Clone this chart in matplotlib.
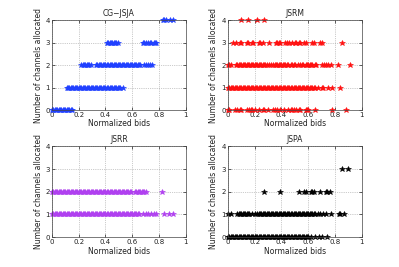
import matplotlib.pyplot as plt

# bids per allocation level
cg_jsja = {
    0: [0.00, 0.01, 0.02, 0.03, 0.04, 0.05, 0.06, 0.07, 0.08, 0.09, 0.10, 0.11, 0.12, 0.13, 0.14, 0.15],
    1: [0.11, 0.12, 0.13, 0.14, 0.15, 0.16, 0.17, 0.18, 0.19, 0.20, 0.21, 0.22, 0.23, 0.24, 0.25, 0.26,
        0.27, 0.28, 0.29, 0.30, 0.31, 0.32, 0.33, 0.34, 0.35, 0.36, 0.37, 0.38, 0.39, 0.40, 0.41, 0.42,
        0.43, 0.44, 0.45, 0.46, 0.47, 0.48, 0.49, 0.50, 0.51, 0.53],
    2: [0.22, 0.23, 0.24, 0.25, 0.26, 0.27, 0.28, 0.29, 0.33, 0.34, 0.35, 0.36, 0.37, 0.38, 0.39, 0.40,
        0.41, 0.42, 0.43, 0.44, 0.45, 0.46, 0.47, 0.48, 0.49, 0.50, 0.51, 0.52, 0.53, 0.54, 0.55, 0.56,
        0.57, 0.58, 0.59, 0.60, 0.61, 0.62, 0.63, 0.64, 0.65, 0.66, 0.69, 0.70, 0.72, 0.73, 0.75],
    3: [0.41, 0.42, 0.43, 0.44, 0.45, 0.46, 0.47, 0.48, 0.49, 0.68, 0.69, 0.70, 0.72, 0.73, 0.74, 0.76, 0.77, 0.78],
    4: [0.83, 0.84, 0.85, 0.88, 0.90],
}
jsrm = {
    0: [0.00, 0.01, 0.05, 0.07, 0.09, 0.10, 0.14, 0.16, 0.17, 0.18, 0.20, 0.23, 0.26, 0.27, 0.30, 0.34,
        0.35, 0.37, 0.39, 0.42, 0.45, 0.47, 0.48, 0.49, 0.51, 0.53, 0.54, 0.58, 0.59, 0.60, 0.65, 0.78, 0.88],
    1: [0.00, 0.01, 0.02, 0.03, 0.04, 0.05, 0.06, 0.07, 0.08, 0.09, 0.10, 0.11, 0.12, 0.13, 0.14, 0.15,
        0.16, 0.17, 0.18, 0.19, 0.20, 0.21, 0.22, 0.23, 0.24, 0.25, 0.26, 0.27, 0.28, 0.29, 0.30, 0.31,
        0.32, 0.33, 0.34, 0.35, 0.36, 0.37, 0.38, 0.39, 0.40, 0.41, 0.42, 0.43, 0.44, 0.45, 0.46, 0.47,
        0.48, 0.49, 0.50, 0.51, 0.52, 0.53, 0.54, 0.55, 0.56, 0.57, 0.58, 0.59, 0.60, 0.61, 0.62, 0.63,
        0.64, 0.65, 0.67, 0.70, 0.71, 0.75, 0.78, 0.84],
    2: [0.00, 0.01, 0.02, 0.06, 0.07, 0.08, 0.09, 0.10, 0.11, 0.12, 0.13, 0.14, 0.15, 0.16, 0.17, 0.18,
        0.19, 0.20, 0.21, 0.22, 0.23, 0.24, 0.25, 0.26, 0.27, 0.28, 0.29, 0.31, 0.32, 0.34, 0.35, 0.36,
        0.37, 0.38, 0.39, 0.40, 0.41, 0.42, 0.43, 0.44, 0.45, 0.47, 0.48, 0.49, 0.50, 0.52, 0.54, 0.55,
        0.56, 0.58, 0.59, 0.60, 0.61, 0.62, 0.63, 0.65, 0.66, 0.70, 0.72, 0.73, 0.75, 0.77, 0.82, 0.91],
    3: [0.04, 0.06, 0.09, 0.10, 0.14, 0.15, 0.18, 0.19, 0.23, 0.24, 0.26, 0.31, 0.36, 0.37, 0.38, 0.39,
        0.43, 0.44, 0.46, 0.48, 0.50, 0.51, 0.53, 0.54, 0.57, 0.58, 0.63, 0.64, 0.69, 0.70, 0.85],
    4: [0.10, 0.15, 0.22, 0.27],
}
jsrr = {
    1: [0.00, 0.01, 0.02, 0.03, 0.04, 0.05, 0.06, 0.07, 0.08, 0.09, 0.10, 0.11, 0.12, 0.13, 0.14, 0.15,
        0.16, 0.17, 0.18, 0.19, 0.20, 0.21, 0.22, 0.23, 0.24, 0.25, 0.26, 0.27, 0.28, 0.29, 0.30, 0.31,
        0.32, 0.33, 0.34, 0.35, 0.36, 0.37, 0.38, 0.39, 0.40, 0.41, 0.42, 0.43, 0.44, 0.45, 0.46, 0.47,
        0.48, 0.49, 0.50, 0.51, 0.52, 0.53, 0.54, 0.55, 0.56, 0.57, 0.58, 0.59, 0.60, 0.61, 0.62, 0.63,
        0.64, 0.65, 0.68, 0.70, 0.72, 0.74, 0.76, 0.78, 0.84, 0.87, 0.90],
    2: [0.00, 0.01, 0.02, 0.03, 0.04, 0.05, 0.06, 0.07, 0.08, 0.09, 0.10, 0.11, 0.12, 0.13, 0.14, 0.15,
        0.16, 0.17, 0.18, 0.19, 0.20, 0.21, 0.22, 0.23, 0.24, 0.25, 0.26, 0.27, 0.28, 0.29, 0.30, 0.31,
        0.32, 0.33, 0.34, 0.35, 0.36, 0.37, 0.38, 0.39, 0.40, 0.41, 0.42, 0.43, 0.44, 0.45, 0.46, 0.47,
        0.48, 0.49, 0.50, 0.51, 0.52, 0.53, 0.54, 0.55, 0.56, 0.57, 0.58, 0.59, 0.62, 0.63, 0.64, 0.65,
        0.66, 0.67, 0.68, 0.69, 0.70, 0.82],
}
jspa = {
    0: [0.00, 0.01, 0.02, 0.03, 0.04, 0.05, 0.06, 0.07, 0.08, 0.09, 0.10, 0.11, 0.12, 0.13, 0.14, 0.15,
        0.16, 0.17, 0.18, 0.19, 0.20, 0.21, 0.22, 0.23, 0.24, 0.25, 0.26, 0.27, 0.28, 0.29, 0.30, 0.31,
        0.32, 0.33, 0.34, 0.35, 0.36, 0.37, 0.38, 0.39, 0.40, 0.41, 0.42, 0.43, 0.44, 0.45, 0.46, 0.47,
        0.48, 0.49, 0.50, 0.51, 0.52, 0.53, 0.54, 0.55, 0.56, 0.57, 0.58, 0.59, 0.60, 0.62, 0.65, 0.68,
        0.70, 0.74],
    1: [0.00, 0.02, 0.07, 0.08, 0.09, 0.10, 0.11, 0.12, 0.13, 0.14, 0.15, 0.16, 0.18, 0.20, 0.22, 0.23,
        0.24, 0.25, 0.26, 0.27, 0.28, 0.29, 0.30, 0.31, 0.32, 0.33, 0.34, 0.35, 0.36, 0.37, 0.38, 0.39,
        0.40, 0.41, 0.42, 0.43, 0.44, 0.45, 0.46, 0.47, 0.48, 0.49, 0.50, 0.51, 0.52, 0.53, 0.54, 0.55,
        0.56, 0.57, 0.58, 0.59, 0.60, 0.61, 0.62, 0.63, 0.64, 0.65, 0.67, 0.69, 0.71, 0.73, 0.77, 0.83,
        0.84, 0.87],
    2: [0.27, 0.39, 0.53, 0.57, 0.58, 0.62, 0.63, 0.64, 0.69, 0.73, 0.74, 0.76],
    3: [0.85, 0.90],
}

panels = [
    ("CG\u2212JSJA", cg_jsja, "#2040ff"),
    ("JSRM", jsrm, "#ff1010"),
    ("JSRR", jsrr, "#b040f0"),
    ("JSPA", jspa, "#000000"),
]
positions = [
    [0.130, 0.588, 0.336, 0.337],
    [0.571, 0.588, 0.336, 0.337],
    [0.130, 0.112, 0.336, 0.340],
    [0.571, 0.112, 0.336, 0.340],
]

fig = plt.figure(figsize=(3.99, 2.67), dpi=100)
for (title, data, color), pos in zip(panels, positions):
    ax = fig.add_axes(pos)
    for level, xs in data.items():
        ax.plot(xs, [level] * len(xs), "*", color=color, markersize=4,
                markeredgewidth=0.4, clip_on=False)
    ax.set_xlim(0, 1)
    ax.set_ylim(0, 4)
    ax.set_xticks([0, 0.2, 0.4, 0.6, 0.8, 1])
    ax.set_xticklabels(["0", "0.2", "0.4", "0.6", "0.8", "1"])
    ax.set_yticks([0, 1, 2, 3, 4])
    ax.grid(True, linestyle=":", linewidth=0.5, color="#999999")
    ax.tick_params(direction="in", length=2, width=0.5, labelsize=5, pad=1.5,
                   top=True, right=True, colors="#222222")
    for s in ax.spines.values():
        s.set_linewidth(0.5)
        s.set_color("#444444")
    ax.set_title(title, fontsize=5.5, pad=3, color="#222222")
    ax.set_xlabel("Normalized bids", fontsize=5.5, labelpad=1, color="#222222")
    ax.set_ylabel("Number of channels allocated", fontsize=5.5, labelpad=2, color="#222222")
    ax.set_axisbelow(True)

fig.savefig("out.png", dpi=100)
